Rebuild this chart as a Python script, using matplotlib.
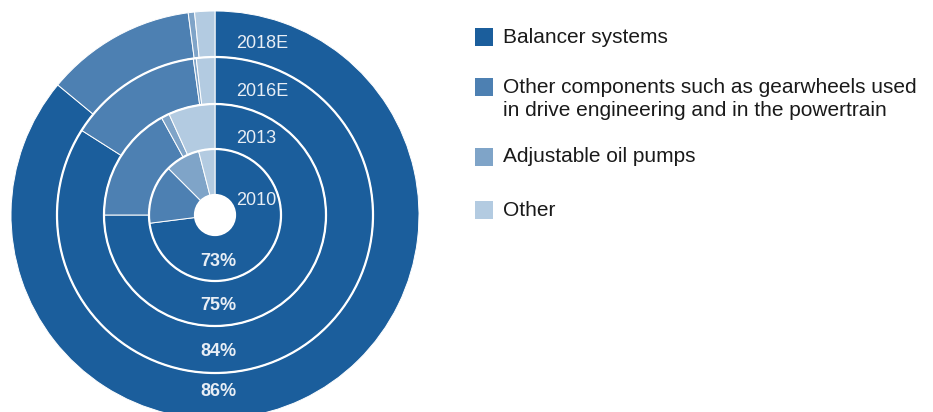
import matplotlib
matplotlib.use('Agg')
import matplotlib.pyplot as plt
from matplotlib.patches import Rectangle, Circle

plt.rcParams['font.family'] = ['Liberation Sans', 'DejaVu Sans']

# 데이터 (바깥 링 -> 안쪽 링)
years = ['2018E', '2016E', '2013', '2010']
segments = ['Balancer systems',
            'Other components such as gearwheels used\nin drive engineering and in the powertrain',
            'Adjustable oil pumps',
            'Other']
share_2018 = [86, 11.9, 0.5, 1.6]
share_2016 = [84, 13.8, 0.3, 1.9]
share_2013 = [75, 17.0, 1.2, 6.8]
share_2010 = [73, 14.5, 8.5, 4.0]
shares = [share_2018, share_2016, share_2013, share_2010]
colors = ['#1b5e9c', '#4d80b2', '#7fa4c8', '#b3cbe1']

# 레이아웃 (픽셀 단위)
W, H = 933, 412
cx, cy = 215, H - 215
radii = [204, 158, 111, 66]
widths = [46, 47, 45, 46]
hole = 20
label_col = '#e8eef5'

fig = plt.figure(figsize=(W / 100, H / 100), dpi=100)
ax = fig.add_axes([0, 0, 1, 1])

for vals, r, w in zip(shares, radii, widths):
    ax.pie(vals, radius=r, center=(cx, cy), startangle=90, counterclock=False,
           colors=colors, wedgeprops=dict(width=w, edgecolor='white', linewidth=0.7))

# 링 사이 흰 선
for r in radii[1:] + [hole]:
    ax.add_patch(Circle((cx, cy), r, fill=False, ec='white', lw=1.6))

ax.set_xlim(0, W)
ax.set_ylim(0, H)
ax.set_aspect('equal')
ax.axis('off')

# 연도 라벨
year_y = [43, 91, 138, 200]
for yr, yy in zip(years, year_y):
    ax.text(236, H - yy, yr, color=label_col, fontsize=13, ha='left', va='center')

# 퍼센트 라벨
pct_y = [392, 352, 306, 262]
for vals, yy in zip(shares, pct_y):
    ax.text(218, H - yy, f"{vals[0]:g}%", color=label_col, fontsize=13,
            fontweight='bold', ha='center', va='center')

# 범례
leg_y = [37, 87, 156.5, 210]
for name, col, yy in zip(segments, colors, leg_y):
    ax.add_patch(Rectangle((474.5, H - yy - 9), 18, 18, color=col, lw=0))
    for k, line in enumerate(name.split('\n')):
        ax.text(503, H - yy - k * 23.5, line, fontsize=15, color='#1a1a1a',
                ha='left', va='center')

fig.savefig('out.png', dpi=100)
